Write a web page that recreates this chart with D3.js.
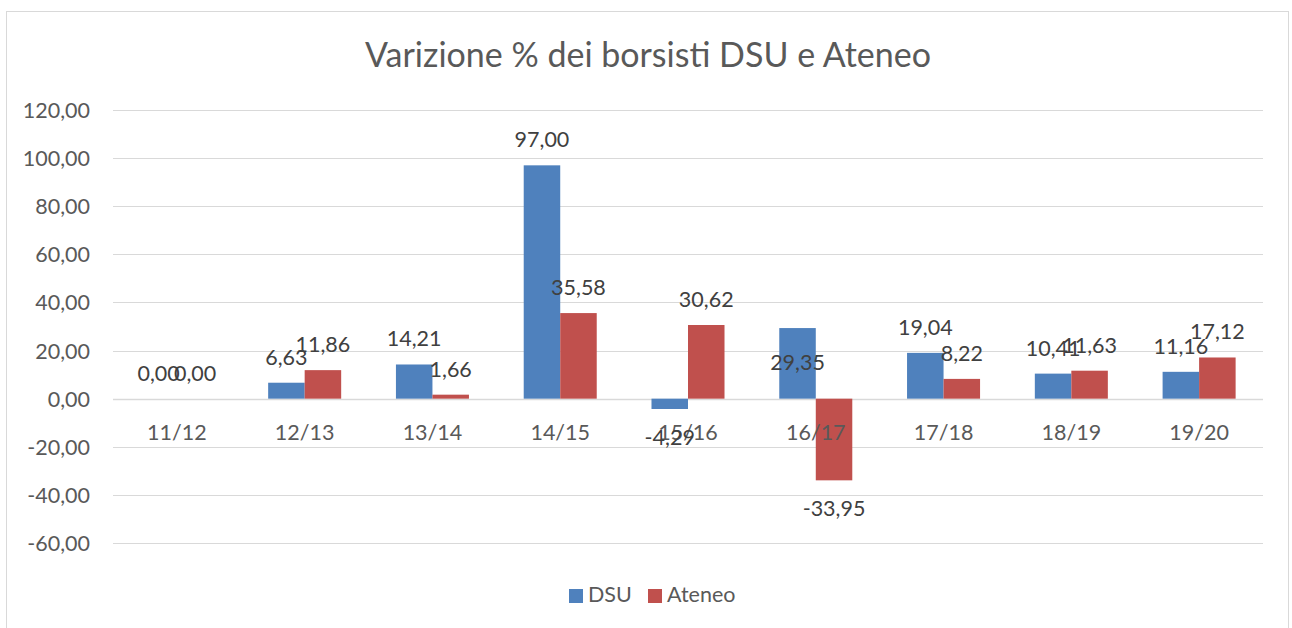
<!DOCTYPE html>
<html>
<head>
<meta charset="utf-8">
<script src="https://cdn.jsdelivr.net/npm/d3@7"></script>
<style>
  body { margin: 0; background: #fff; }
  text { font-family: Lato, "Open Sans", sans-serif; }
</style>
</head>
<body>
<div id="chart"></div>
<script>
var categories = ["11/12", "12/13", "13/14", "14/15", "15/16", "16/17", "17/18", "18/19", "19/20"];
var dsu = [0.00, 6.63, 14.21, 97.00, -4.29, 29.35, 19.04, 10.41, 11.16];
var ateneo = [0.00, 11.86, 1.66, 35.58, 30.62, -33.95, 8.22, 11.63, 17.12];
var seriesNames = ["DSU", "Ateneo"];
var colors = ["#4f81bd", "#c0504d"];
var yTicks = [-60, -40, -20, 0, 20, 40, 60, 80, 100, 120];

var width = 1292, height = 628;
var plot = { left: 113, right: 1263, top: 110, bottom: 543 };
var fs = "21.5px";

var svg = d3.select("#chart").append("svg")
    .attr("width", width)
    .attr("height", height);

// chart frame
svg.append("rect")
    .attr("x", 6.5).attr("y", 11.5)
    .attr("width", 1282).attr("height", 630)
    .attr("fill", "#fff")
    .attr("stroke", "#d9d9d9");

svg.append("text")
    .attr("x", 648).attr("y", 67)
    .attr("text-anchor", "middle")
    .style("font-size", "34px")
    .attr("fill", "#595959")
    .text("Varizione % dei borsisti DSU e Ateneo");

var y = d3.scaleLinear().domain([-60, 120]).range([plot.bottom, plot.top]);
var x = d3.scaleBand().domain(categories).range([plot.left, plot.right]);
// gap width 150% of a bar
var xs = d3.scaleBand().domain(seriesNames)
    .range([0, x.bandwidth()]).paddingOuter(0.75).paddingInner(0);

var fmt = function (v) { return d3.format(".2f")(v).replace(".", ",").replace("\u2212", "-"); };

// gridlines
svg.append("g")
    .selectAll("line")
    .data(yTicks)
    .join("line")
    .attr("x1", plot.left).attr("x2", plot.right)
    .attr("y1", function (d) { return Math.round(y(d)) + 0.5; })
    .attr("y2", function (d) { return Math.round(y(d)) + 0.5; })
    .attr("stroke", "#d9d9d9")
    .attr("stroke-width", function (d) { return d === 0 ? 1.5 : 1; });

// y axis labels
svg.append("g")
    .selectAll("text")
    .data(yTicks)
    .join("text")
    .attr("x", 90)
    .attr("y", function (d) { return y(d) + 8; })
    .attr("text-anchor", "end")
    .style("font-size", fs)
    .attr("fill", "#595959")
    .text(fmt);

var series = [dsu, ateneo];

series.forEach(function (vals, si) {
    var data = categories.map(function (c, i) { return { cat: c, v: vals[i] }; });
    svg.append("g").selectAll("rect")
        .data(data)
        .join("rect")
        .attr("x", function (d) { return x(d.cat) + xs(seriesNames[si]); })
        .attr("width", xs.bandwidth())
        .attr("y", function (d) { return y(Math.max(0, d.v)); })
        .attr("height", function (d) { return Math.abs(y(d.v) - y(0)); })
        .attr("fill", colors[si]);
});

// category labels (drawn over the bars)
svg.append("g")
    .selectAll("text")
    .data(categories)
    .join("text")
    .attr("x", function (d) { return x(d) + x.bandwidth() / 2; })
    .attr("y", y(0) + 41)
    .attr("text-anchor", "middle")
    .style("font-size", fs)
    .attr("fill", "#595959")
    .text(function (d) { return d; });

// data labels
series.forEach(function (vals, si) {
    var data = categories.map(function (c, i) { return { cat: c, v: vals[i], i: i }; });
    svg.append("g").selectAll("text")
        .data(data)
        .join("text")
        .attr("x", function (d) { return x(d.cat) + xs(seriesNames[si]) + xs.bandwidth() / 2; })
        .attr("y", function (d) {
            // the DSU 16/17 label sits inside the bar in the original
            if (si === 0 && d.cat === "16/17") return y(d.v) + 42;
            return d.v >= 0 ? y(d.v) - 18 : y(d.v) + 36;
        })
        .attr("text-anchor", "middle")
        .style("font-size", fs)
        .attr("fill", "#404040")
        .text(function (d) { return fmt(d.v); });
});

// legend
var legend = svg.append("g");
var legendX = [569, 648];
seriesNames.forEach(function (name, i) {
    legend.append("rect")
        .attr("x", legendX[i]).attr("y", 589)
        .attr("width", 14).attr("height", 14)
        .attr("fill", colors[i]);
    legend.append("text")
        .attr("x", legendX[i] + 19).attr("y", 602)
        .style("font-size", fs)
        .attr("fill", "#595959")
        .text(name);
});
</script>
</body>
</html>
